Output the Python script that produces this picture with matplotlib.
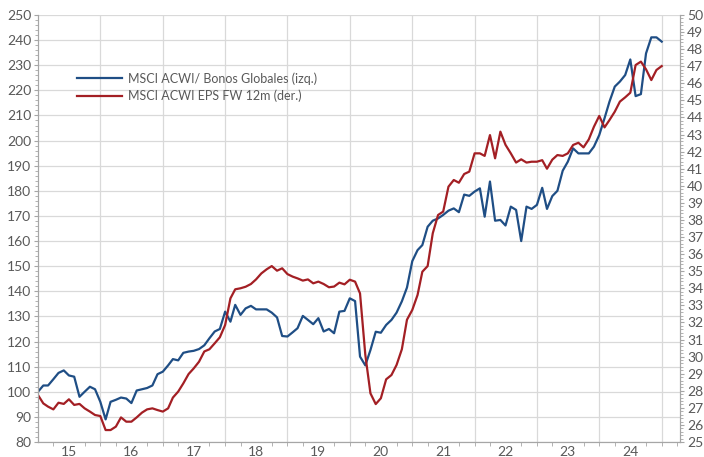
import numpy as np
import matplotlib
matplotlib.use('Agg')
import matplotlib.pyplot as plt
import pandas as pd

'''
Data read off the chart (monthly, Jan 2015 - Jan 2025)
'''
msci_bonos = [100, 102.5, 102.5, 105, 107.5, 108.5, 106.5, 106, 98, 100, 102, 101,
              96, 89, 96, 96.8, 97.7, 97.3, 95.5, 100.5, 101, 101.5, 102.5, 107,
              108, 110.5, 113, 112.5, 115.5, 116, 116.3, 117, 118.5, 121.3, 124, 125,
              131.9, 127.9, 134.6, 130.6, 133.2, 134.2, 132.8, 132.8, 132.8, 131.5, 129.6, 122.2,
              122, 123.7, 125.3, 130.2, 128.6, 126.9, 129.3, 124, 125, 123.3, 131.9, 132.2,
              137.2, 136.1, 114, 110.5, 116.6, 123.9, 123.5, 126.6, 128.6, 131.5, 136, 141.5,
              152, 156.4, 158.4, 165.7, 168.1, 169, 170.4, 172.1, 173, 171.5, 178.5, 178,
              179.7, 181, 169.7, 183.7, 168.1, 168.4, 166.2, 173.7, 172.4, 160, 173.7, 172.8,
              174.4, 181.2, 172.8, 177.9, 180, 188, 191.6, 196.9, 194.9, 194.9, 194.9, 197.6,
              202.2, 208.9, 215.5, 221.5, 223.5, 226.1, 232.3, 217.7, 218.5, 234.7, 241.1, 241.1,
              239.4]
eps_fw = [27.75, 27.26, 27.07, 26.91, 27.3, 27.23, 27.5, 27.17, 27.23, 26.97, 26.78, 26.58,
          26.52, 25.7, 25.7, 25.9, 26.44, 26.19, 26.19, 26.44, 26.72, 26.91, 26.97, 26.87,
          26.78, 26.97, 27.6, 27.95, 28.43, 28.98, 29.31, 29.7, 30.3, 30.43, 30.78, 31.13,
          31.85, 33.41, 33.94, 34.0, 34.09, 34.25, 34.52, 34.87, 35.11, 35.3, 35.03, 35.17,
          34.83, 34.68, 34.58, 34.45, 34.52, 34.29, 34.39, 34.25, 34.06, 34.1, 34.33, 34.23,
          34.5, 34.39, 33.7, 30.1, 27.85, 27.22, 27.56, 28.67, 28.92, 29.51, 30.43, 32.16,
          32.73, 33.61, 34.97, 35.3, 37.22, 38.29, 38.49, 39.95, 40.34, 40.18, 40.69, 40.83,
          41.9, 41.9, 41.75, 42.97, 41.61, 43.17, 42.4, 41.9, 41.36, 41.55, 41.36, 41.41,
          41.41, 41.5, 41.0, 41.53, 41.8, 41.75, 41.9, 42.39, 42.52, 42.25, 42.72, 43.46,
          44.09, 43.42, 43.85, 44.34, 44.93, 45.18, 45.45, 47.07, 47.27, 46.82, 46.19, 46.78,
          47.01]
year_labels = ['15', '16', '17', '18', '19', '20', '21', '22', '23', '24']
label_blue = 'MSCI ACWI/ Bonos Globales (izq.)'
label_red = 'MSCI ACWI EPS FW 12m (der.)'

dates = pd.date_range('2015-01-01', periods=len(msci_bonos), freq='MS')

'''
Styling
'''
plt.rcParams['font.family'] = ['Lato', 'DejaVu Sans']
txt_col = '#595959'
grid_col = '#d9d9d9'
spine_col = '#a6a6a6'
blue = '#1f4e85'
red = '#a31f24'

fig = plt.figure(figsize=(7.04, 4.57), dpi=100)
ax = fig.add_axes([38/704, 1-442/457, (680-38)/704, (442-15)/457])
ax2 = ax.twinx()

l1, = ax.plot(dates, msci_bonos, color=blue, lw=1.6, label=label_blue)
l2, = ax2.plot(dates, eps_fw, color=red, lw=1.6, label=label_red)

ax.set_xlim(pd.Timestamp('2015-01-01'), pd.Timestamp('2025-04-18'))
ax.set_ylim(80, 250)
ax2.set_ylim(25, 50)

# y ticks
ax.set_yticks(np.arange(80, 251, 10))
ax.set_yticks(np.arange(80, 251, 2), minor=True)
ax2.set_yticks(np.arange(25, 51, 1))
ax2.set_yticks(np.arange(25, 50.01, 0.2), minor=True)
ax.grid(axis='y', which='major', color=grid_col, lw=0.9)
ax.set_axisbelow(True)

# x ticks: labels mid year, quarter tick marks, year grid lines
years = np.arange(2015, 2025)
mids = [pd.Timestamp(f'{y}-07-01') for y in years]
ax.set_xticks(mids, year_labels)
quarters = pd.date_range('2015-04-01', '2025-04-01', freq='QS')
ax.set_xticks(quarters, minor=True)
for y in range(2016, 2026):
    ax.axvline(pd.Timestamp(f'{y}-01-01'), color=grid_col, lw=0.9, zorder=0)

for a in (ax, ax2):
    a.tick_params(which='both', colors=spine_col, labelcolor=txt_col, labelsize=10)
    a.tick_params(which='major', length=3)
    a.tick_params(which='minor', length=2)
    for s in a.spines.values():
        s.set_color(spine_col)
    a.spines['top'].set_visible(False)
ax.tick_params(axis='x', which='major', length=0, pad=3)
ax.tick_params(axis='x', which='minor', length=3)
ax2.tick_params(axis='y', pad=2)
ax.tick_params(axis='y', pad=2)

leg = fig.legend(handles=[l1, l2], loc='upper left', bbox_to_anchor=(66/704, 1-61/457),
                 frameon=False, fontsize=9, handlelength=3.6, handletextpad=0.5,
                 labelspacing=0.4, labelcolor=txt_col)

fig.savefig('out.png', dpi=100)
